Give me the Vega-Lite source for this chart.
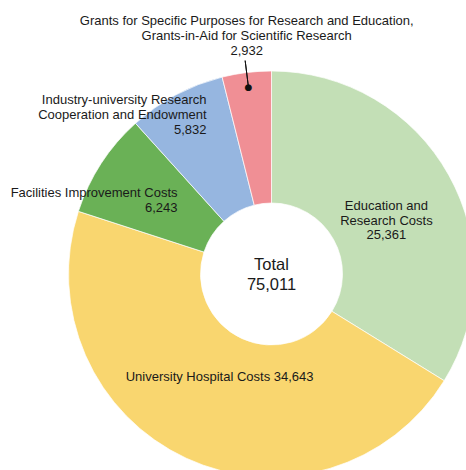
{
  "$schema": "https://vega.github.io/schema/vega-lite/v6.json",
  "width": 543,
  "height": 548,
  "autosize": {"type": "none"},
  "padding": {"left": 0, "top": 0, "right": -77, "bottom": -78},
  "background": "white",
  "config": {"view": {"stroke": null}, "font": "Liberation Sans"},
  "data": {
    "values": [
      {"order": 1, "category": "Education and Research Costs", "label": "Education and\nResearch Costs\n25,361", "amount": 25361},
      {"order": 2, "category": "University Hospital Costs", "label": "University Hospital Costs 34,643", "amount": 34643},
      {"order": 3, "category": "Facilities Improvement Costs", "label": "Facilities Improvement Costs\n6,243", "amount": 6243},
      {"order": 4, "category": "Industry-university Research Cooperation and Endowment", "label": "Industry-university Research\nCooperation and Endowment\n5,832", "amount": 5832},
      {"order": 5, "category": "Grants for Specific Purposes for Research and Education, Grants-in-Aid for Scientific Research", "label": "Grants for Specific Purposes for Research and Education,\nGrants-in-Aid for Scientific Research\n2,932", "amount": 2932}
    ]
  },
  "transform": [
    {"stack": "amount", "groupby": [], "sort": [{"field": "order", "order": "ascending"}], "as": ["v0", "v1"]},
    {"calculate": "(datum.v0 + datum.v1) / 2", "as": "mid"}
  ],
  "layer": [
    {
      "mark": {"type": "arc", "outerRadius": 203, "innerRadius": 71, "stroke": "white", "strokeWidth": 0.7},
      "encoding": {
        "theta": {"field": "v0", "type": "quantitative", "scale": {"domain": [0, 75011]}, "stack": null},
        "theta2": {"field": "v1"},
        "color": {
          "field": "category",
          "type": "nominal",
          "legend": null,
          "scale": {
            "domain": [
              "Education and Research Costs",
              "University Hospital Costs",
              "Facilities Improvement Costs",
              "Industry-university Research Cooperation and Endowment",
              "Grants for Specific Purposes for Research and Education, Grants-in-Aid for Scientific Research"
            ],
            "range": ["#c3dfb6", "#f9d66f", "#6ab156", "#96b6e0", "#f08f95"]
          }
        }
      }
    },
    {
      "transform": [{"filter": "datum.order == 5"}],
      "mark": {"type": "arc", "outerRadius": 215, "innerRadius": 188, "stroke": "#111111", "strokeWidth": 1, "fill": null},
      "encoding": {
        "theta": {"field": "mid", "type": "quantitative", "scale": {"domain": [0, 75011]}, "stack": null},
        "theta2": {"field": "mid"}
      }
    },
    {
      "transform": [{"filter": "datum.order == 5"}],
      "mark": {"type": "text", "radius": 188, "fontSize": 9, "baseline": "middle", "align": "center", "color": "#111111", "font": "DejaVu Sans"},
      "encoding": {
        "theta": {"field": "mid", "type": "quantitative", "scale": {"domain": [0, 75011]}, "stack": null},
        "text": {"value": "●"}
      }
    },
    {
      "transform": [{"filter": "datum.order == 1"}],
      "mark": {"type": "text", "radius": 127, "dx": 4, "dy": -6, "align": "center", "baseline": "middle", "fontSize": 13, "lineHeight": 14.5, "lineBreak": "\n", "color": "#1a1a1a"},
      "encoding": {
        "theta": {"field": "mid", "type": "quantitative", "scale": {"domain": [0, 75011]}, "stack": null},
        "text": {"field": "label"}
      }
    },
    {
      "transform": [{"filter": "datum.order == 2"}],
      "mark": {"type": "text", "radius": 114, "dx": -4, "dy": 0, "align": "center", "baseline": "middle", "fontSize": 13, "color": "#1a1a1a"},
      "encoding": {
        "theta": {"field": "mid", "type": "quantitative", "scale": {"domain": [0, 75011]}, "stack": null},
        "text": {"field": "label"}
      }
    },
    {
      "transform": [{"filter": "datum.order == 3"}],
      "mark": {"type": "text", "radius": 112, "dx": 0, "dy": -20, "align": "right", "baseline": "middle", "fontSize": 13, "lineHeight": 15.4, "lineBreak": "\n", "color": "#1a1a1a"},
      "encoding": {
        "theta": {"field": "mid", "type": "quantitative", "scale": {"domain": [0, 75011]}, "stack": null},
        "text": {"field": "label"}
      }
    },
    {
      "transform": [{"filter": "datum.order == 4"}],
      "mark": {"type": "text", "radius": 172, "dx": 16, "dy": -22, "align": "right", "baseline": "middle", "fontSize": 13, "lineHeight": 14.7, "lineBreak": "\n", "color": "#1a1a1a"},
      "encoding": {
        "theta": {"field": "mid", "type": "quantitative", "scale": {"domain": [0, 75011]}, "stack": null},
        "text": {"field": "label"}
      }
    },
    {
      "transform": [{"filter": "datum.order == 5"}],
      "mark": {"type": "text", "radius": 240, "dx": 4.6, "dy": -15, "align": "center", "baseline": "middle", "fontSize": 13, "lineHeight": 15, "lineBreak": "\n", "color": "#1a1a1a"},
      "encoding": {
        "theta": {"field": "mid", "type": "quantitative", "scale": {"domain": [0, 75011]}, "stack": null},
        "text": {"field": "label"}
      }
    },
    {
      "transform": [
        {"aggregate": [{"op": "sum", "field": "amount", "as": "total"}]},
        {"calculate": "'Total\\n' + format(datum.total, ',')", "as": "totalLabel"}
      ],
      "mark": {"type": "text", "align": "center", "baseline": "middle", "dy": -9, "fontSize": 16.5, "lineHeight": 20, "lineBreak": "\n", "color": "#1a1a1a"},
      "encoding": {
        "text": {"field": "totalLabel"}
      }
    }
  ]
}
